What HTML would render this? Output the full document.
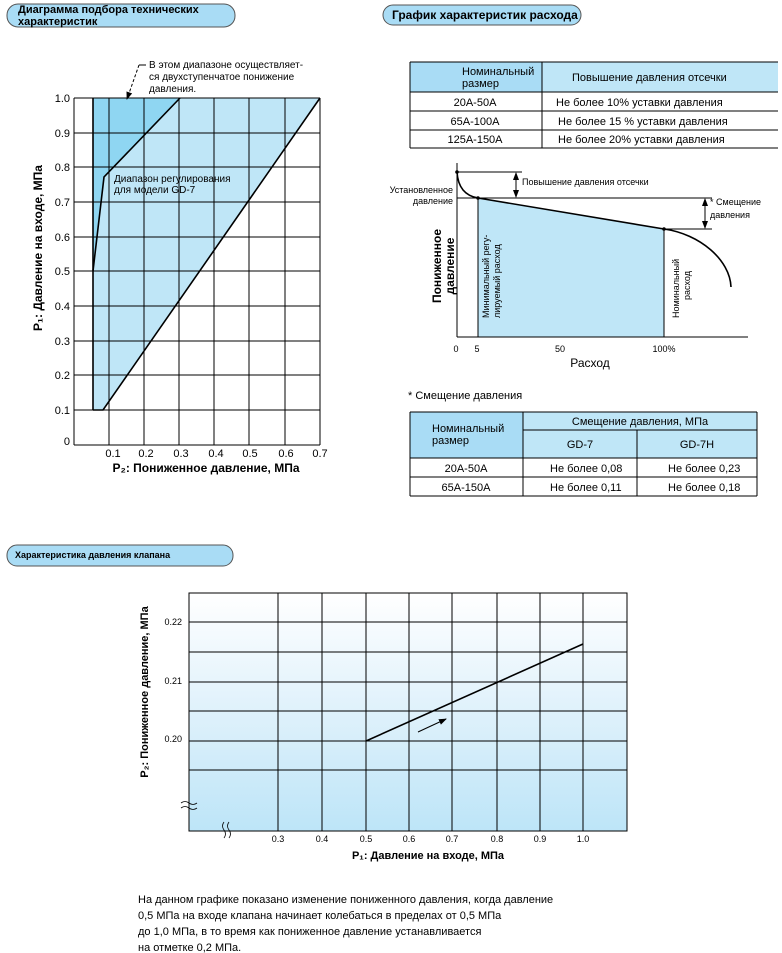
<!DOCTYPE html>
<html><head><meta charset="utf-8"><style>
body{margin:0;background:#fff;}
svg{display:block;font-family:"Liberation Sans","DejaVu Sans",sans-serif;}
</style></head><body>
<svg width="782" height="953" viewBox="0 0 782 953" xmlns="http://www.w3.org/2000/svg">
<defs>
<linearGradient id="g3" x1="0" y1="0" x2="0" y2="1">
<stop offset="0" stop-color="#ffffff"/><stop offset="0.5" stop-color="#dff1fb"/><stop offset="1" stop-color="#bde5f8"/>
</linearGradient>
<marker id="ah" markerWidth="8" markerHeight="8" refX="7" refY="4" orient="auto" markerUnits="userSpaceOnUse"><path d="M0,1 L8,4 L0,7 z" fill="#000"/></marker>
</defs>

<!-- Header pills -->
<rect x="7" y="4" width="228" height="23" rx="11" fill="#a9dcf5" stroke="#555" stroke-width="1"/>
<text x="18" y="13" font-size="11" font-weight="bold">Диаграмма подбора технических</text>
<text x="18" y="25" font-size="11" font-weight="bold">характеристик</text>
<rect x="383" y="5" width="198" height="20" rx="10" fill="#a9dcf5" stroke="#555" stroke-width="1"/>
<text x="392" y="19" font-size="12" font-weight="bold">График характеристик расхода</text>
<rect x="7" y="545" width="226" height="21" rx="10" fill="#a9dcf5" stroke="#555" stroke-width="1"/>
<text x="15" y="558" font-size="9" font-weight="bold">Характеристика давления клапана</text>

<!-- Chart 1 -->
<polygon points="93,98 320,98 103,410 93,410" fill="#bfe6f7"/>
<polygon points="93,98 180,98 104,177 93,271" fill="#8fd6f2"/>
<g stroke="#000" stroke-width="1">
<line x1="74" y1="98" x2="320" y2="98"/>
<line x1="74" y1="133" x2="320" y2="133"/><line x1="74" y1="167" x2="320" y2="167"/>
<line x1="74" y1="202" x2="320" y2="202"/><line x1="74" y1="237" x2="320" y2="237"/>
<line x1="74" y1="271" x2="320" y2="271"/><line x1="74" y1="306" x2="320" y2="306"/>
<line x1="74" y1="341" x2="320" y2="341"/><line x1="74" y1="375" x2="320" y2="375"/>
<line x1="74" y1="410" x2="320" y2="410"/><line x1="74" y1="445" x2="320" y2="445"/>
<line x1="74" y1="98" x2="74" y2="445"/>
<line x1="109" y1="98" x2="109" y2="445"/><line x1="144" y1="98" x2="144" y2="445"/>
<line x1="179" y1="98" x2="179" y2="445"/><line x1="214" y1="98" x2="214" y2="445"/>
<line x1="249" y1="98" x2="249" y2="445"/><line x1="285" y1="98" x2="285" y2="445"/>
<line x1="320" y1="98" x2="320" y2="445"/>
</g>
<g stroke="#000" stroke-width="1.6" fill="none">
<line x1="93" y1="98" x2="93" y2="410"/>
<polyline points="93,410 103,410 320,98"/>
<polyline points="93,271 104,177 180,98"/>
<line x1="139" y1="65" x2="127" y2="99" stroke-width="1" stroke-dasharray="3,2" marker-end="url(#ah)"/>
<line x1="139" y1="65" x2="146" y2="65" stroke-width="1"/>
</g>
<g font-size="10">
<text x="149" y="68">В этом диапазоне осуществляет-</text>
<text x="149" y="80">ся двухступенчатое понижение</text>
<text x="149" y="92">давления.</text>
<text x="114" y="182">Диапазон регулирования</text>
<text x="114" y="193">для модели GD-7</text>
</g>
<g font-size="11" text-anchor="end">
<text x="70" y="102">1.0</text><text x="70" y="137">0.9</text><text x="70" y="171">0.8</text>
<text x="70" y="206">0.7</text><text x="70" y="241">0.6</text><text x="70" y="275">0.5</text>
<text x="70" y="310">0.4</text><text x="70" y="345">0.3</text><text x="70" y="379">0.2</text>
<text x="70" y="414">0.1</text><text x="70" y="445">0</text>
</g>
<g font-size="11" text-anchor="middle">
<text x="113" y="457">0.1</text><text x="146" y="457">0.2</text><text x="181" y="457">0.3</text>
<text x="216" y="457">0.4</text><text x="250" y="457">0.5</text><text x="286" y="457">0.6</text>
<text x="320" y="457">0.7</text>
</g>
<text x="206" y="472" font-size="12" font-weight="bold" text-anchor="middle">P₂: Пониженное давление, МПа</text>
<text transform="translate(42,248) rotate(-90)" font-size="12" font-weight="bold" text-anchor="middle">P₁: Давление на входе, МПа</text>

<!-- Table 1 -->
<rect x="410" y="62" width="132" height="30" fill="#a9dcf5"/>
<rect x="542" y="62" width="236" height="30" fill="#bfe6f7"/>
<g stroke="#000" stroke-width="1">
<line x1="410" y1="62" x2="778" y2="62"/><line x1="410" y1="92" x2="778" y2="92"/>
<line x1="410" y1="111" x2="778" y2="111"/><line x1="410" y1="130" x2="778" y2="130"/>
<line x1="410" y1="148" x2="778" y2="148"/>
<line x1="410" y1="62" x2="410" y2="148"/><line x1="542" y1="62" x2="542" y2="148"/>
</g>
<g font-size="11">
<text x="462" y="75">Номинальный</text><text x="462" y="87">размер</text>
<text x="572" y="81">Повышение давления отсечки</text>
<text x="475" y="106" text-anchor="middle">20A-50A</text>
<text x="475" y="125" text-anchor="middle">65A-100A</text>
<text x="475" y="143" text-anchor="middle">125A-150A</text>
<text x="556" y="106">Не более 10% уставки давления</text>
<text x="558" y="125">Не более 15 % уставки давления</text>
<text x="558" y="143">Не более 20% уставки давления</text>
</g>

<!-- Chart 2 -->
<polygon points="478,198 664,229 664,337 478,337" fill="#bfe6f7"/>
<g stroke="#000" stroke-width="1" fill="none">
<line x1="457" y1="163" x2="457" y2="337"/>
<line x1="457" y1="337" x2="748" y2="337"/>
<line x1="457" y1="172" x2="522" y2="172"/>
<line x1="457" y1="198" x2="712" y2="198"/>
<line x1="664" y1="229" x2="712" y2="229"/>
<line x1="478" y1="198" x2="478" y2="337"/>
<line x1="664" y1="229" x2="664" y2="337"/>
<line x1="516" y1="185" x2="516" y2="173" marker-end="url(#ah)"/>
<line x1="516" y1="185" x2="516" y2="197" marker-end="url(#ah)"/>
<line x1="705" y1="213" x2="705" y2="199" marker-end="url(#ah)"/>
<line x1="705" y1="213" x2="705" y2="228" marker-end="url(#ah)"/>
</g>
<g stroke="#000" stroke-width="1.6" fill="none">
<path d="M457,172 C458,188 466,196 478,198"/>
<line x1="478" y1="198" x2="664" y2="229"/>
<path d="M664,229 C700,234 730,260 731,287"/>
</g>
<circle cx="457" cy="172" r="1.8"/><circle cx="478" cy="198" r="1.8"/><circle cx="664" cy="229" r="1.8"/>
<g font-size="9">
<text x="522" y="185">Повышение давления отсечки</text>
<text x="453" y="193" text-anchor="end">Установленное</text>
<text x="453" y="204" text-anchor="end">давление</text>
<text x="710" y="205">* Смещение</text>
<text x="710" y="218">давления</text>
<text x="456" y="352" text-anchor="middle">0</text>
<text x="477" y="352" text-anchor="middle">5</text>
<text x="560" y="352" text-anchor="middle">50</text>
<text x="664" y="352" text-anchor="middle">100%</text>
<text transform="translate(489,318) rotate(-90)">Минимальный регу-</text>
<text transform="translate(500,318) rotate(-90)">лируемый расход</text>
<text transform="translate(679,318) rotate(-90)">Номинальный</text>
<text transform="translate(690,300) rotate(-90)">расход</text>
</g>
<text x="590" y="367" font-size="12" text-anchor="middle">Расход</text>
<text transform="translate(441,266) rotate(-90)" font-size="12" font-weight="bold" text-anchor="middle">Пониженное</text>
<text transform="translate(454,266) rotate(-90)" font-size="12" font-weight="bold" text-anchor="middle">давление</text>

<!-- Table 2 -->
<text x="408" y="399" font-size="11">* Смещение давления</text>
<rect x="410" y="412" width="113" height="46" fill="#a9dcf5"/>
<rect x="523" y="412" width="234" height="46" fill="#bfe6f7"/>
<g stroke="#000" stroke-width="1">
<line x1="410" y1="412" x2="757" y2="412"/>
<line x1="523" y1="430" x2="757" y2="430"/>
<line x1="410" y1="458" x2="757" y2="458"/><line x1="410" y1="477" x2="757" y2="477"/>
<line x1="410" y1="496" x2="757" y2="496"/>
<line x1="410" y1="412" x2="410" y2="496"/><line x1="523" y1="412" x2="523" y2="496"/>
<line x1="637" y1="430" x2="637" y2="496"/><line x1="757" y1="412" x2="757" y2="496"/>
</g>
<g font-size="11">
<text x="432" y="432">Номинальный</text><text x="432" y="444">размер</text>
<text x="640" y="425" text-anchor="middle">Смещение давления, МПа</text>
<text x="580" y="448" text-anchor="middle">GD-7</text>
<text x="697" y="448" text-anchor="middle">GD-7H</text>
<text x="466" y="472" text-anchor="middle">20A-50A</text>
<text x="466" y="491" text-anchor="middle">65A-150A</text>
<text x="550" y="472">Не более 0,08</text>
<text x="550" y="491">Не более 0,11</text>
<text x="668" y="472">Не более 0,23</text>
<text x="668" y="491">Не более 0,18</text>
</g>

<!-- Chart 3 -->
<rect x="189" y="593" width="438" height="238" fill="url(#g3)"/>
<g stroke="#000" stroke-width="1">
<rect x="189" y="593" width="438" height="238" fill="none"/>
<line x1="189" y1="622" x2="627" y2="622"/><line x1="189" y1="652" x2="627" y2="652"/>
<line x1="189" y1="682" x2="627" y2="682"/><line x1="189" y1="711" x2="627" y2="711"/>
<line x1="189" y1="741" x2="627" y2="741"/><line x1="189" y1="770" x2="627" y2="770"/>
<line x1="278" y1="593" x2="278" y2="831"/><line x1="322" y1="593" x2="322" y2="831"/>
<line x1="366" y1="593" x2="366" y2="831"/><line x1="409" y1="593" x2="409" y2="831"/>
<line x1="452" y1="593" x2="452" y2="831"/><line x1="497" y1="593" x2="497" y2="831"/>
<line x1="540" y1="593" x2="540" y2="831"/><line x1="583" y1="593" x2="583" y2="831"/>
</g>
<line x1="366" y1="741" x2="583" y2="644" stroke="#000" stroke-width="1.6"/>
<line x1="418" y1="732" x2="446" y2="719" stroke="#000" stroke-width="1" marker-end="url(#ah)"/>
<g stroke="#000" stroke-width="0.8" fill="none">
<path d="M181,803 q4,-3 8,0 q4,3 8,0"/><path d="M181,808 q4,-3 8,0 q4,3 8,0"/>
<path d="M224,822 q-3,4 0,8 q3,4 0,8"/><path d="M229,822 q-3,4 0,8 q3,4 0,8"/>
</g>
<g font-size="9" text-anchor="middle">
<text x="278" y="842">0.3</text><text x="322" y="842">0.4</text><text x="366" y="842">0.5</text>
<text x="409" y="842">0.6</text><text x="452" y="842">0.7</text><text x="497" y="842">0.8</text>
<text x="540" y="842">0.9</text><text x="583" y="842">1.0</text>
</g>
<g font-size="9" text-anchor="end">
<text x="182" y="625">0.22</text><text x="182" y="684">0.21</text><text x="182" y="742">0.20</text>
</g>
<text x="428" y="859" font-size="11" font-weight="bold" text-anchor="middle">P₁: Давление на входе, МПа</text>
<text transform="translate(148,692) rotate(-90)" font-size="11" font-weight="bold" text-anchor="middle">P₂: Пониженное давление, МПа</text>
<g font-size="11">
<text x="138" y="903">На данном графике показано изменение пониженного давления, когда давление</text>
<text x="138" y="919">0,5 МПа на входе клапана начинает колебаться в пределах от 0,5 МПа</text>
<text x="138" y="935">до 1,0 МПа, в то время как пониженное давление устанавливается</text>
<text x="138" y="951">на отметке 0,2 МПа.</text>
</g>
</svg>
</body></html>
